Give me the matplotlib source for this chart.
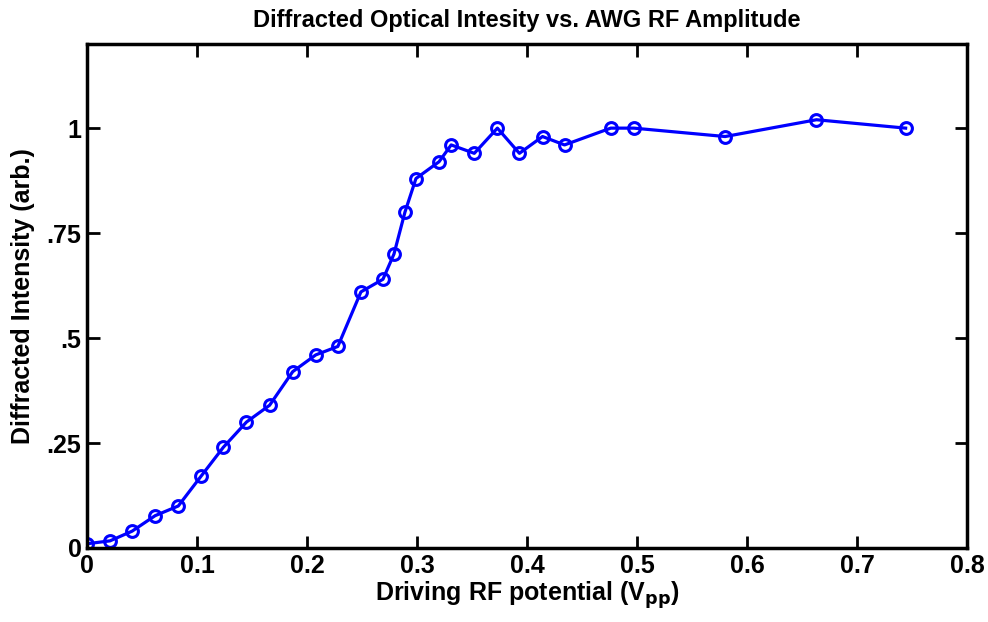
import numpy as np
import matplotlib.pyplot as plt

# data
v_pp = [0.0, 0.021, 0.041, 0.062, 0.083, 0.104, 0.124, 0.145, 0.166, 0.187,
        0.208, 0.228, 0.249, 0.269, 0.279, 0.289, 0.299, 0.320, 0.331, 0.352,
        0.373, 0.393, 0.414, 0.434, 0.476, 0.497, 0.580, 0.663, 0.744]
intensity = [0.01, 0.017, 0.04, 0.077, 0.10, 0.172, 0.24, 0.30, 0.34, 0.42,
             0.46, 0.48, 0.61, 0.64, 0.70, 0.80, 0.88, 0.92, 0.96, 0.94,
             1.00, 0.94, 0.98, 0.96, 1.00, 1.00, 0.98, 1.02, 1.00]
x_ticks = [0, 0.1, 0.2, 0.3, 0.4, 0.5, 0.6, 0.7, 0.8]
x_labels = ['0', '0.1', '0.2', '0.3', '0.4', '0.5', '0.6', '0.7', '0.8']
y_ticks = [0, 0.25, 0.5, 0.75, 1]
y_labels = ['0', '.25', '.5', '.75', '1']

plt.rcParams['font.family'] = ['Liberation Sans Narrow', 'Liberation Sans', 'DejaVu Sans']
plt.rcParams['font.weight'] = 'bold'
plt.rcParams['mathtext.default'] = 'regular'

fig = plt.figure(figsize=(9.88, 6.22), dpi=100)
ax = fig.add_axes([0.088, 0.119, 0.891, 0.810])

ax.plot(v_pp, intensity, '-o', color='#0000ff', lw=2.3, ms=8.5,
        mfc='none', mec='#0000ff', mew=2.2)

ax.set_xlim(0, 0.8)
ax.set_ylim(0, 1.2)
ax.set_xticks(x_ticks)
ax.set_xticklabels(x_labels, fontsize=18, fontweight='bold')
ax.set_yticks(y_ticks)
ax.set_yticklabels(y_labels, fontsize=18, fontweight='bold')

ax.tick_params(direction='in', length=9, width=2, top=True, right=True, pad=4)
for s in ax.spines.values():
    s.set_linewidth(2.5)

ax.set_xlabel('Driving RF potential (V$_{\\mathbf{pp}}$)', fontsize=18,
              fontweight='bold', labelpad=1)
ax.set_ylabel('Diffracted Intensity (arb.)', fontsize=18, fontweight='bold', labelpad=8)
ax.set_title('Diffracted Optical Intesity vs. AWG RF Amplitude', fontsize=17,
             fontweight='bold', pad=12)

fig.savefig('out.png', dpi=100)
